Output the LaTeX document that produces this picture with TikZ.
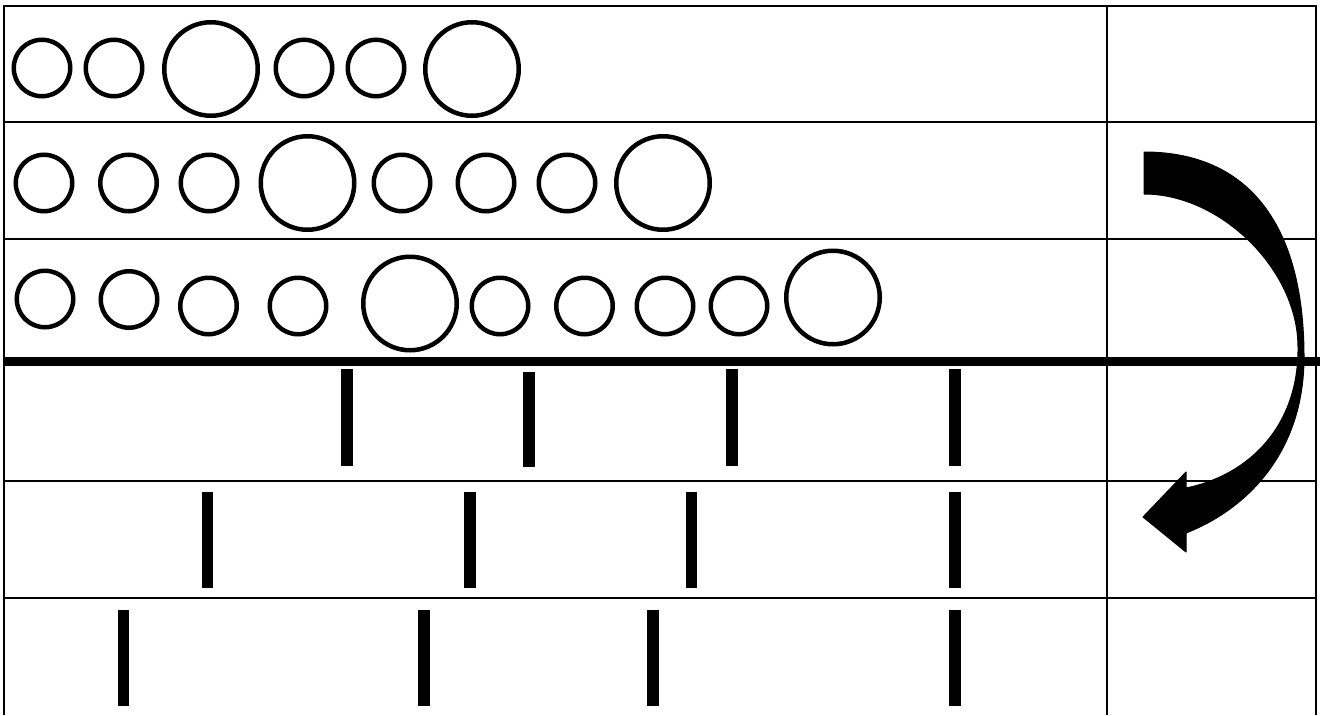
\documentclass[tikz,border=0pt]{standalone}
\usetikzlibrary{calc}

\begin{document}
\begin{tikzpicture}[
    x=1pt, y=-1pt,
    gridLine/.style={draw=black, line width=2pt},
    splitLine/.style={draw=black, line width=8.5pt},
    beadSmall/.style={circle, draw=black, line width=4.5pt, inner sep=0pt, minimum size=56.5pt},
    beadBig/.style={circle, draw=black, line width=4.5pt, inner sep=0pt, minimum size=93.5pt},
    tickBar/.style={draw=black, line width=11.5pt},
    turnArrow/.style={fill=black, draw=black, line width=1pt, line join=round},
]
\useasboundingbox (0,0) rectangle (1320,715);
\draw[gridLine] (3.5,715) -- (3.5,6) -- (1316,6) -- (1316,715);
\draw[gridLine] (1107,6) -- (1107,715);
\draw[gridLine] (3.5,122) -- (1316,122);
\draw[gridLine] (3.5,239) -- (1316,239);
\draw[gridLine] (3.5,481) -- (1316,481);
\draw[gridLine] (3.5,598) -- (1316,598);
\draw[splitLine] (3.5,361.5) -- (1320,361.5);

\node[beadSmall] (beadA1) at ( 42, 68) {};
\node[beadSmall] (beadA2) at (114, 68) {};
\node[beadBig]   (beadA3) at (211, 69) {};
\node[beadSmall] (beadA4) at (304, 68) {};
\node[beadSmall] (beadA5) at (376, 68) {};
\node[beadBig]   (beadA6) at (472, 69) {};

\node[beadSmall] (beadB1) at ( 44,183) {};
\node[beadSmall] (beadB2) at (128.5,183) {};
\node[beadSmall] (beadB3) at (209,183) {};
\node[beadBig]   (beadB4) at (307.5,183) {};
\node[beadSmall] (beadB5) at (402,183) {};
\node[beadSmall] (beadB6) at (486,183) {};
\node[beadSmall] (beadB7) at (567,183) {};
\node[beadBig]   (beadB8) at (663,183) {};

\node[beadSmall] (beadC1)  at ( 45,299) {};
\node[beadSmall] (beadC2)  at (129,299.5) {};
\node[beadSmall] (beadC3)  at (208.5,306) {};
\node[beadSmall] (beadC4)  at (298,306) {};
\node[beadBig]   (beadC5)  at (410,303.5) {};
\node[beadSmall] (beadC6)  at (500,306) {};
\node[beadSmall] (beadC7)  at (584.5,306) {};
\node[beadSmall] (beadC8)  at (665,306) {};
\node[beadSmall] (beadC9)  at (739,306) {};
\node[beadBig]   (beadC10) at (833,297.5) {};

\draw[tickBar] (347,369) -- (347,466);
\draw[tickBar] (529,372) -- (529,467);
\draw[tickBar] (732,369) -- (732,466);
\draw[tickBar] (955,369) -- (955,466);
\draw[tickBar] (207.5,492) -- (207.5,588);
\draw[tickBar] (470,492) -- (470,588);
\draw[tickBar] (691.5,492) -- (691.5,588);
\draw[tickBar] (955,492) -- (955,588);
\draw[tickBar] (123.5,610) -- (123.5,706);
\draw[tickBar] (424,610) -- (424,706);
\draw[tickBar] (653,610) -- (653,706);
\draw[tickBar] (955,610) -- (955,706);

\filldraw[turnArrow] (1144,152) .. controls (1248,152) and (1304,224) .. (1304,357)
    .. controls (1304,454) and (1245,510) .. (1186,533) -- (1186,552) -- (1143,517)
    -- (1186,472) -- (1186,488) .. controls (1250,475) and (1299,425) .. (1298,347)
    .. controls (1298,270) and (1221,194) .. (1144,194) -- cycle;
\end{tikzpicture}
\end{document}
